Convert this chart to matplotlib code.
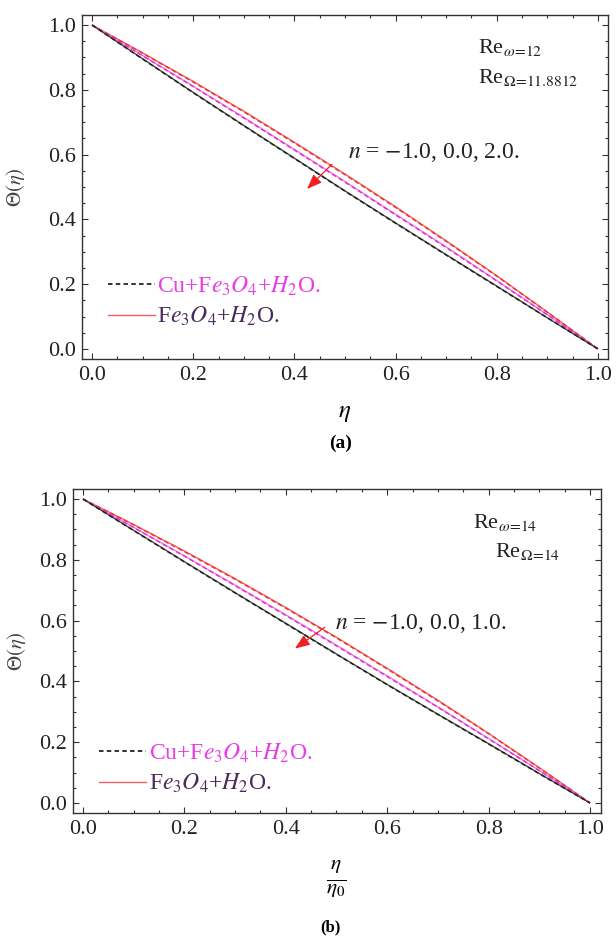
import numpy as np
import matplotlib
matplotlib.use('Agg')
import matplotlib.pyplot as plt
from matplotlib.ticker import MultipleLocator

plt.rcParams['font.family'] = ['Liberation Serif', 'DejaVu Serif']
plt.rcParams['mathtext.fontset'] = 'stix'

eta = [0.0, 0.1, 0.2, 0.3, 0.4, 0.5, 0.6, 0.7, 0.8, 0.9, 1.0]

# panel (a): Re_w = 12, Re_O = 11.8812, n = -1, 0, 2
a_fe_n1 = [1.0, 0.914, 0.826, 0.734, 0.638, 0.540, 0.439, 0.334, 0.226, 0.114, 0.0]
a_fe_n0 = [1.0, 0.906, 0.811, 0.715, 0.616, 0.517, 0.416, 0.315, 0.211, 0.106, 0.0]
a_fe_n2 = [1.0, 0.896, 0.792, 0.690, 0.589, 0.488, 0.389, 0.291, 0.194, 0.096, 0.0]
a_cu_n1 = [1.0, 0.913, 0.824, 0.732, 0.636, 0.538, 0.437, 0.332, 0.225, 0.113, 0.0]
a_cu_n0 = [1.0, 0.905, 0.810, 0.713, 0.614, 0.515, 0.414, 0.313, 0.210, 0.105, 0.0]
a_cu_n2 = [1.0, 0.895, 0.791, 0.689, 0.588, 0.487, 0.388, 0.290, 0.193, 0.096, 0.0]

# panel (b): Re_w = 14, Re_O = 14, n = -1, 0, 1
b_fe_n1 = [1.0, 0.916, 0.829, 0.738, 0.643, 0.545, 0.443, 0.338, 0.229, 0.116, 0.0]
b_fe_n0 = [1.0, 0.907, 0.813, 0.717, 0.619, 0.519, 0.418, 0.316, 0.212, 0.107, 0.0]
b_fe_n2 = [1.0, 0.897, 0.794, 0.692, 0.591, 0.490, 0.390, 0.292, 0.195, 0.097, 0.0]
b_cu_n1 = [1.0, 0.915, 0.827, 0.736, 0.641, 0.543, 0.441, 0.336, 0.228, 0.115, 0.0]
b_cu_n0 = [1.0, 0.906, 0.812, 0.715, 0.617, 0.517, 0.416, 0.315, 0.211, 0.106, 0.0]
b_cu_n2 = [1.0, 0.896, 0.793, 0.691, 0.590, 0.489, 0.389, 0.291, 0.194, 0.096, 0.0]

line_colors = ['#f03434', '#e030e0', '#222222']
fe_colors = ['#f26060', '#f07ad8', '#3a4a3a']
leg_labels = [r'Cu+F$e_3O_4$+$H_2$O.', r'F$e_3O_4$+$H_2$O.']
leg_text_colors = ['#e83ce8', '#4a2a5a']


def draw_panel(ax, fe_series, cu_series, xlim, ylim, re_texts, re_pos, n_text, n_pos,
               arrow_tail, arrow_head, leg_anchor, ylab_x):
    for ys, c in zip(fe_series, fe_colors):
        ax.plot(eta, ys, color=c, lw=1.0, solid_capstyle='butt')
    for ys, c in zip(cu_series, line_colors):
        ax.plot(eta, ys, color=c, lw=1.1, dashes=(3, 2))

    ax.set_xlim(*xlim)
    ax.set_ylim(*ylim)
    ax.xaxis.set_major_locator(MultipleLocator(0.2))
    ax.yaxis.set_major_locator(MultipleLocator(0.2))
    ax.xaxis.set_minor_locator(MultipleLocator(0.05))
    ax.yaxis.set_minor_locator(MultipleLocator(0.05))
    ax.tick_params(which='both', direction='in', top=True, right=True, width=0.8, color='#333333')
    ax.tick_params(which='major', length=4.5)
    ax.tick_params(which='minor', length=2.5)
    ax.tick_params(axis='x', labelsize=16, pad=5, labelcolor='#222222')
    ax.tick_params(axis='y', labelsize=16, pad=4, labelcolor='#222222')
    for sp in ax.spines.values():
        sp.set_linewidth(1.0)
        sp.set_color('#333333')

    ax.set_ylabel(r'$\Theta(\eta)$', fontsize=15, color='#444444')
    ax.yaxis.set_label_coords(ylab_x, 0.5)

    for txt, (tx, ty) in zip(re_texts, re_pos):
        ax.text(tx, ty, txt, transform=ax.transAxes, fontsize=16, ha='left', va='center', color='#222222')

    ax.text(n_pos[0], n_pos[1], n_text, fontsize=17, ha='left', va='center', color='#222222')
    ax.annotate('', xy=arrow_head, xytext=arrow_tail,
                arrowprops=dict(arrowstyle='-|>,head_length=0.9,head_width=0.35', color='#f02020',
                                lw=0.9, shrinkA=0, shrinkB=0))

    handles = [plt.Line2D([], [], color='#222222', lw=1.3, dashes=(2.5, 1.8)),
               plt.Line2D([], [], color='#f06060', lw=1.0)]
    leg = ax.legend(handles, leg_labels, loc='upper left', bbox_to_anchor=leg_anchor,
                    frameon=False, fontsize=17, handlelength=2.0, handletextpad=0.1,
                    labelspacing=0.3, borderpad=0, borderaxespad=0)
    for t, c in zip(leg.get_texts(), leg_text_colors):
        t.set_color(c)


fig = plt.figure(figsize=(6.16, 9.38), dpi=100)

ax1 = fig.add_axes([82 / 616, 1 - 359 / 938, 526 / 616, 344 / 938])
draw_panel(ax1, [a_fe_n1, a_fe_n0, a_fe_n2], [a_cu_n1, a_cu_n0, a_cu_n2],
           (-0.0198, 1.0198), (-0.031, 1.031),
           [r'Re$_{\omega\!=\!12}$', r'Re$_{\Omega\!=\!11.8812}$'],
           [(0.753, 0.905), (0.753, 0.818)],
           r'$n$ = $-$1.0, 0.0, 2.0.', (0.506, 0.605),
           (0.474, 0.570), (0.425, 0.494), (0.049, 0.245), -0.105)
ax1.text(0.5, -0.157, r'$\eta$', transform=ax1.transAxes, fontsize=18, ha='center', va='center')
fig.text(341 / 616, 1 - 443 / 938, '(a)', fontsize=14, fontweight='bold', ha='center', va='center')

ax2 = fig.add_axes([72.5 / 616, 1 - 813 / 938, 528.5 / 616, 324 / 938])
draw_panel(ax2, [b_fe_n1, b_fe_n0, b_fe_n2], [b_cu_n1, b_cu_n0, b_cu_n2],
           (-0.0207, 1.0217), (-0.033, 1.033),
           [r'Re$_{\omega\!=\!14}$', r'Re$_{\Omega\!=\!14}$'],
           [(0.758, 0.898), (0.800, 0.806)],
           r'$n$ = $-$1.0, 0.0, 1.0.', (0.497, 0.592),
           (0.477, 0.578), (0.418, 0.508), (0.05, 0.220), -0.085)
ax2.text(0.5, -0.205, r'$\frac{\eta}{\eta_0}$', transform=ax2.transAxes, fontsize=22, ha='center', va='center')
fig.text(330 / 616, 1 - 927 / 938, '(b)', fontsize=12, fontweight='bold', ha='center', va='center')

fig.savefig('out.png', dpi=100)
